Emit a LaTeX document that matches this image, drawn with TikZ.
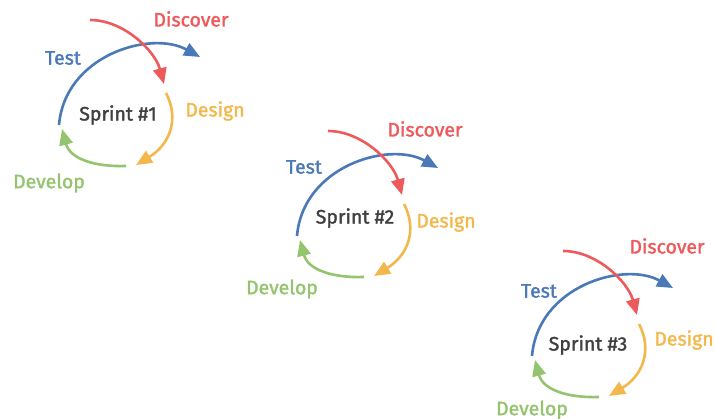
\documentclass[tikz,border=0pt]{standalone}
\usepackage{fontspec}
\setmainfont{Fira Sans}
\newfontfamily\labfont[FakeBold=1.6]{Fira Sans}
\usetikzlibrary{arrows.meta}
\definecolor{cred}{HTML}{EE5A5C}
\definecolor{cblue}{HTML}{4A78B8}
\definecolor{cyel}{HTML}{F2B84B}
\definecolor{cgreen}{HTML}{94C46E}
\definecolor{ctext}{HTML}{404040}
\tikzset{
  arr/.style={line width=2.6pt, -{Triangle[length=16pt,width=13.5pt]}},
  lab/.style={font=\labfont\fontsize{19.5}{19.5}\selectfont, inner sep=0pt, anchor=center},
}
\newcommand{\sprintcycle}[1]{%
  \coordinate (r0#1) at (90,20);  \coordinate (r1#1) at (164,84);
  \coordinate (b0#1) at (59,125); \coordinate (b1#1) at (200,57);
  \coordinate (y0#1) at (166,93); \coordinate (y1#1) at (136,165);
  \coordinate (g0#1) at (126,166);\coordinate (g1#1) at (62,129);
  \draw[arr, cblue] (b0#1) .. controls +(6,-70) and +(-49,-27) .. (b1#1);
  \draw[arr, cred] (r0#1) .. controls +(34,0) and +(-9,-33) .. (r1#1);
  \draw[arr, cyel] (y0#1) .. controls +(14,27) and +(33,-20) .. (y1#1);
  \draw[arr, cgreen] (g0#1) .. controls +(-31,1) and +(8,30) .. (g1#1);
}
\begin{document}
\begin{tikzpicture}[x=1pt,y=-1pt]
\useasboundingbox (0,0) rectangle (715,419);
\begin{scope}
  \sprintcycle{a}
  \node[lab, text=ctext] (sa) at (118,115) {Sprint \#1};
  \node[lab, text=cred] (da) at (191,19) {Discover};
  \node[lab, text=cblue] (ta) at (63,58) {Test};
  \node[lab, text=cyel] (ga) at (215,111) {Design};
  \node[lab, text=cgreen] (va) at (49,183) {Develop};
\end{scope}
\begin{scope}[shift={(238,111)}]
  \sprintcycle{b}
\end{scope}
\node[lab, text=ctext] (sb) at (355,218) {Sprint \#2};
\node[lab, text=cred] (db) at (425,129) {Discover};
\node[lab, text=cblue] (tb) at (304,167) {Test};
\node[lab, text=cyel] (gb) at (446,222) {Design};
\node[lab, text=cgreen] (vb) at (282,289) {Develop};
\begin{scope}[shift={(473,231)}]
  \sprintcycle{c}
\end{scope}
\node[lab, text=ctext] (sc) at (588,345) {Sprint \#3};
\node[lab, text=cred] (dc) at (667,246) {Discover};
\node[lab, text=cblue] (tc) at (539,291) {Test};
\node[lab, text=cyel] (gc) at (684,340) {Design};
\node[lab, text=cgreen] (vc) at (532,410) {Develop};
\end{tikzpicture}
\end{document}
